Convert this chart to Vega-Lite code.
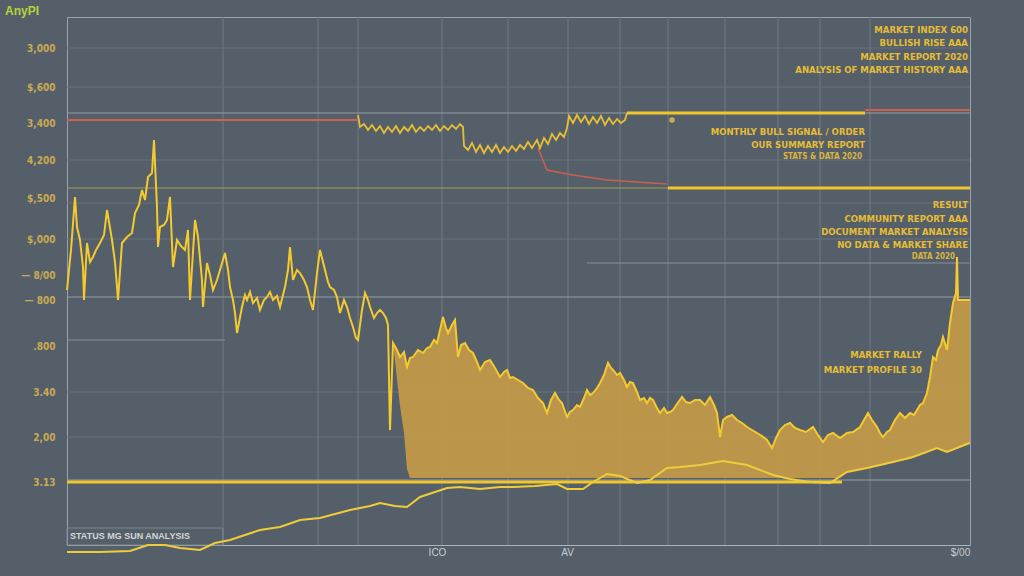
{
"$schema": "https://vega.github.io/schema/vega-lite/v6.json",
"width": 903, "height": 528,
"autosize": {"type": "none"},
"padding": {"left": 67, "top": 17, "right": 54, "bottom": 31},
"background": "#555f69",
"title": {"text": "AnyPI", "anchor": "start", "frame": "group", "dx": -62, "offset": -1, "color": "#b8d43c", "fontSize": 12, "fontWeight": "bold", "font": "Liberation Sans"},
"config": {"view": {"stroke": "#9aa2aa", "strokeWidth": 1}, "font": "Liberation Sans"},
"datasets": {
"main": [
{"t":0,"v":255},{"t":4,"v":295},{"t":8,"v":348},{"t":10,"v":318},{"t":13,"v":305},{"t":16,"v":278},{"t":17,"v":245},{"t":20,"v":302},{"t":23,"v":283},{"t":26,"v":288},{"t":29,"v":295},{"t":33,"v":302},{"t":37,"v":310},{"t":40,"v":335},{"t":43,"v":317},{"t":45,"v":305},{"t":48,"v":283},{"t":50,"v":258},{"t":51,"v":245},{"t":55,"v":302},{"t":60,"v":308},{"t":65,"v":312},{"t":68,"v":332},{"t":72,"v":340},{"t":75,"v":355},{"t":78,"v":345},{"t":81,"v":368},{"t":85,"v":372},{"t":87,"v":405},{"t":90,"v":338},{"t":91,"v":298},{"t":93,"v":318},{"t":97,"v":320},{"t":100,"v":325},{"t":103,"v":348},{"t":106,"v":278},{"t":110,"v":305},{"t":114,"v":299},{"t":118,"v":295},{"t":121,"v":315},{"t":123,"v":245},{"t":128,"v":325},{"t":131,"v":308},{"t":135,"v":265},{"t":136,"v":238},{"t":140,"v":282},{"t":143,"v":270},{"t":146,"v":255},{"t":150,"v":265},{"t":153,"v":275},{"t":158,"v":292},{"t":161,"v":275},{"t":163,"v":258},{"t":166,"v":245},{"t":168,"v":232},{"t":170,"v":212},{"t":175,"v":238},{"t":178,"v":250},{"t":180,"v":245},{"t":183,"v":253},{"t":186,"v":242},{"t":190,"v":247},{"t":193,"v":235},{"t":197,"v":245},{"t":200,"v":248},{"t":203,"v":253},{"t":206,"v":245},{"t":210,"v":249},{"t":213,"v":238},{"t":216,"v":250},{"t":218,"v":258},{"t":221,"v":275},{"t":223,"v":298},{"t":226,"v":265},{"t":230,"v":275},{"t":233,"v":272},{"t":237,"v":265},{"t":240,"v":258},{"t":243,"v":245},{"t":246,"v":235},{"t":250,"v":272},{"t":253,"v":295},{"t":258,"v":275},{"t":261,"v":263},{"t":263,"v":258},{"t":267,"v":255},{"t":270,"v":248},{"t":273,"v":232},{"t":277,"v":245},{"t":280,"v":238},{"t":283,"v":227},{"t":286,"v":218},{"t":289,"v":207},{"t":291,"v":205},{"t":295,"v":235},{"t":298,"v":252},{"t":301,"v":245},{"t":303,"v":238},{"t":307,"v":227},{"t":310,"v":232},{"t":313,"v":235},{"t":316,"v":232},{"t":319,"v":227},{"t":321,"v":220},{"t":323,"v":115},
{"t":326,"v":202,"base":202},{"t":330,"v":195,"base":166},{"t":333,"v":188,"base":139},{"t":337,"v":193,"base":112},{"t":340,"v":178,"base":76},{"t":343,"v":187,"base":67},{"t":346,"v":188,"base":67},{"t":351,"v":195,"base":67},{"t":356,"v":192,"base":67},{"t":360,"v":197,"base":67},{"t":363,"v":198,"base":67},{"t":367,"v":205,"base":67},{"t":370,"v":202,"base":67},{"t":373,"v":215,"base":67},{"t":376,"v":228,"base":67},{"t":379,"v":217,"base":67},{"t":381,"v":212,"base":67},{"t":385,"v":220,"base":67},{"t":388,"v":225,"base":67},{"t":391,"v":188,"base":67},{"t":394,"v":200,"base":67},{"t":398,"v":202,"base":67},{"t":402,"v":195,"base":67},{"t":406,"v":192,"base":67},{"t":410,"v":183,"base":67},{"t":413,"v":175,"base":67},{"t":418,"v":183,"base":67},{"t":423,"v":185,"base":67},{"t":428,"v":177,"base":67},{"t":433,"v":168,"base":67},{"t":437,"v":173,"base":67},{"t":440,"v":175,"base":67},{"t":443,"v":167,"base":67},{"t":446,"v":168,"base":67},{"t":451,"v":165,"base":67},{"t":456,"v":162,"base":67},{"t":461,"v":157,"base":67},{"t":466,"v":155,"base":67},{"t":471,"v":147,"base":67},{"t":476,"v":142,"base":67},{"t":480,"v":132,"base":67},{"t":484,"v":145,"base":67},{"t":488,"v":152,"base":67},{"t":492,"v":145,"base":67},{"t":495,"v":142,"base":67},{"t":500,"v":128,"base":67},{"t":503,"v":133,"base":67},{"t":506,"v":135,"base":67},{"t":510,"v":140,"base":67},{"t":513,"v":138,"base":67},{"t":517,"v":147,"base":67},{"t":520,"v":155,"base":67},{"t":523,"v":150,"base":67},{"t":526,"v":152,"base":67},{"t":530,"v":157,"base":67},{"t":533,"v":162,"base":67},{"t":537,"v":170,"base":67},{"t":541,"v":182,"base":67},{"t":544,"v":177,"base":67},{"t":546,"v":175,"base":67},{"t":550,"v":170,"base":67},{"t":553,"v":172,"base":67},{"t":557,"v":165,"base":67},{"t":560,"v":158,"base":67},{"t":563,"v":163,"base":67},{"t":566,"v":162,"base":67},{"t":570,"v":153,"base":67},{"t":573,"v":145,"base":67},{"t":577,"v":147,"base":67},{"t":580,"v":142,"base":67},{"t":583,"v":147,"base":67},{"t":586,"v":145,"base":67},{"t":590,"v":137,"base":67},{"t":593,"v":132,"base":67},{"t":597,"v":137,"base":67},{"t":600,"v":132,"base":67},{"t":603,"v":133,"base":67},{"t":606,"v":135,"base":67},{"t":610,"v":141,"base":67},{"t":615,"v":148,"base":67},{"t":619,"v":143,"base":67},{"t":623,"v":142,"base":67},{"t":628,"v":145,"base":67},{"t":633,"v":145,"base":67},{"t":638,"v":140,"base":67},{"t":643,"v":148,"base":67},{"t":647,"v":140,"base":67},{"t":650,"v":132,"base":67},{"t":653,"v":108,"base":67},{"t":656,"v":125,"base":67},{"t":660,"v":128,"base":67},{"t":665,"v":130,"base":67},{"t":670,"v":125,"base":67},{"t":675,"v":122,"base":67},{"t":680,"v":118,"base":67},{"t":685,"v":115,"base":67},{"t":690,"v":112,"base":67},{"t":695,"v":109,"base":67},{"t":700,"v":105,"base":67},{"t":705,"v":97,"base":67},{"t":709,"v":107,"base":67},{"t":713,"v":115,"base":67},{"t":718,"v":120,"base":67},{"t":723,"v":122,"base":67},{"t":728,"v":117,"base":67},{"t":733,"v":115,"base":67},{"t":739,"v":113,"base":67},{"t":746,"v":118,"base":67},{"t":751,"v":110,"base":67},{"t":756,"v":103,"base":67},{"t":761,"v":110,"base":67},{"t":766,"v":112,"base":67},{"t":773,"v":107,"base":67},{"t":780,"v":112,"base":73},{"t":786,"v":113,"base":74},{"t":793,"v":118,"base":76},{"t":797,"v":125,"base":77},{"t":801,"v":132,"base":77},{"t":805,"v":125,"base":78},{"t":810,"v":118,"base":79},{"t":813,"v":112,"base":80},{"t":816,"v":108,"base":80},{"t":820,"v":113,"base":81},{"t":823,"v":115,"base":82},{"t":828,"v":125,"base":83},{"t":833,"v":132,"base":84},{"t":838,"v":127,"base":85},{"t":843,"v":132,"base":86},{"t":847,"v":130,"base":88},{"t":850,"v":135,"base":89},{"t":853,"v":140,"base":90},{"t":856,"v":142,"base":92},{"t":858,"v":147,"base":93},{"t":860,"v":152,"base":94},{"t":863,"v":168,"base":95},{"t":866,"v":188,"base":96},{"t":869,"v":185,"base":97},{"t":871,"v":195,"base":96},{"t":874,"v":200,"base":95},{"t":876,"v":208,"base":94},{"t":880,"v":195,"base":93},{"t":883,"v":222,"base":94},{"t":886,"v":242,"base":96},{"t":889,"v":252,"base":97},{"t":890,"v":288,"base":97},{"t":891,"v":245,"base":98},{"t":896,"v":245,"base":99},{"t":903,"v":245,"base":102}
],
"lower": [
{"t":0,"v":-7},{"t":33,"v":-7},{"t":63,"v":-6},{"t":81,"v":0},{"t":98,"v":0},{"t":113,"v":-3},{"t":133,"v":-5},{"t":148,"v":2},{"t":163,"v":5},{"t":178,"v":10},{"t":193,"v":15},{"t":213,"v":18},{"t":233,"v":25},{"t":253,"v":27},{"t":283,"v":35},{"t":303,"v":39},{"t":313,"v":42},{"t":328,"v":39},{"t":340,"v":38},{"t":353,"v":48},{"t":368,"v":53},{"t":380,"v":57},{"t":393,"v":58},{"t":413,"v":56},{"t":433,"v":58},{"t":446,"v":58},{"t":468,"v":59},{"t":490,"v":61},{"t":500,"v":56},{"t":516,"v":56},{"t":526,"v":63},{"t":540,"v":71},{"t":553,"v":69},{"t":570,"v":62},{"t":583,"v":65},{"t":600,"v":77},{"t":613,"v":78},{"t":633,"v":80},{"t":656,"v":84},{"t":680,"v":80},{"t":706,"v":70},{"t":723,"v":66},{"t":743,"v":63},{"t":763,"v":62},{"t":780,"v":73},{"t":800,"v":77},{"t":826,"v":83},{"t":846,"v":88},{"t":870,"v":97},{"t":880,"v":93},{"t":900,"v":101},{"t":903,"v":102}
],
"upper": [
{"t":291,"v":430},{"t":293,"v":418},{"t":297,"v":421},{"t":301,"v":415},{"t":305,"v":420},{"t":309,"v":414},{"t":313,"v":419},{"t":317,"v":412},{"t":321,"v":418},{"t":325,"v":413},{"t":329,"v":419},{"t":333,"v":412},{"t":337,"v":418},{"t":341,"v":414},{"t":345,"v":420},{"t":349,"v":413},{"t":353,"v":418},{"t":357,"v":414},{"t":361,"v":419},{"t":365,"v":415},{"t":369,"v":420},{"t":373,"v":414},{"t":377,"v":419},{"t":381,"v":415},{"t":385,"v":420},{"t":389,"v":416},{"t":393,"v":421},{"t":396,"v":418},{"t":397,"v":399},{"t":401,"v":395},{"t":405,"v":402},{"t":409,"v":393},{"t":413,"v":400},{"t":417,"v":392},{"t":421,"v":399},{"t":425,"v":393},{"t":429,"v":400},{"t":433,"v":392},{"t":437,"v":398},{"t":441,"v":393},{"t":445,"v":399},{"t":449,"v":394},{"t":453,"v":400},{"t":457,"v":396},{"t":461,"v":403},{"t":465,"v":397},{"t":470,"v":405},{"t":473,"v":397},{"t":477,"v":407},{"t":481,"v":401},{"t":485,"v":411},{"t":489,"v":405},{"t":493,"v":412},{"t":497,"v":408},{"t":500,"v":417},{"t":502,"v":429},{"t":506,"v":422},{"t":510,"v":430},{"t":514,"v":423},{"t":518,"v":429},{"t":522,"v":421},{"t":526,"v":428},{"t":530,"v":422},{"t":534,"v":429},{"t":538,"v":420},{"t":542,"v":427},{"t":546,"v":421},{"t":550,"v":426},{"t":554,"v":422},{"t":558,"v":425},{"t":560,"v":432}
],
"redpath": [{"t":471,"v":397},{"t":480,"v":375},{"t":506,"v":370},{"t":540,"v":365},{"t":600,"v":361}],
"redseg": [{"t":0,"t2":290,"v":425},{"t":798,"t2":903,"v":435}],
"yelseg": [{"t":560,"t2":798,"v":432},{"t":601,"t2":903,"v":357},{"t":0,"t2":775,"v":63}],
"gridMajor": [{"v":432},{"v":248},{"v":65}],
"gridMinor": [{"v":497},{"v":458},{"v":385},{"v":342},{"v":306},{"v":153},{"v":108}],
"gridPart": [{"t":0,"t2":158,"v":205},{"t":520,"t2":903,"v":282}],
"olive": [{"v":357}],
"gridV": [{"t":156},{"t":251},{"t":291},{"t":375},{"t":441},{"t":501},{"t":553},{"t":601},{"t":658},{"t":711},{"t":753},{"t":803}],
"dot": [{"t":605,"v":425}],
"notes": [
{"t":901,"v":515,"text":"MARKET INDEX 600"},
{"t":901,"v":502,"text":"BULLISH RISE AAA"},
{"t":901,"v":488,"text":"MARKET REPORT 2020"},
{"t":901,"v":475,"text":"ANALYSIS OF MARKET HISTORY AAA"},
{"t":798,"v":413,"text":"MONTHLY BULL SIGNAL / ORDER"},
{"t":798,"v":400,"text":"OUR SUMMARY REPORT"},
{"t":901,"v":340,"text":"RESULT"},
{"t":901,"v":326,"text":"COMMUNITY REPORT AAA"},
{"t":901,"v":313,"text":"DOCUMENT MARKET ANALYSIS"},
{"t":901,"v":300,"text":"NO DATA & MARKET SHARE"},
{"t":855,"v":190,"text":"MARKET RALLY"},
{"t":855,"v":175,"text":"MARKET PROFILE 30"}
],
"notesSmall": [
{"t":795,"v":388,"text":"STATS & DATA 2020"},
{"t":888,"v":288,"text":"DATA 2020"}
],
"status": [{"t":3,"v":9,"text":"STATUS MG SUN ANALYSIS"}],
"statusBox": [{"t":0,"t2":156,"v":0,"v2":17}]
},
"layer": [
{"data": {"name": "gridV"}, "mark": {"type": "rule", "color": "#707a84", "strokeWidth": 1},
 "encoding": {"x": {"field": "t", "type": "quantitative", "scale": {"domain": [0, 903], "nice": false, "zero": false},
   "axis": {"values": [370, 500, 893], "labelExpr": "datum.value==370?'ICO':datum.value==500?'AV':'$/00'", "grid": false, "ticks": false, "domainColor": "#aeb3b8", "labelColor": "#c8ccd0", "labelFontSize": 10, "labelPadding": 2, "title": null}}}},
{"data": {"name": "gridMinor"}, "mark": {"type": "rule", "color": "#68727c", "strokeWidth": 1},
 "encoding": {"y": {"field": "v", "type": "quantitative", "scale": {"domain": [0, 528], "nice": false, "zero": false},
   "axis": {"values": [497,458,422,385,347,306,270,245,199,153,108,63], "labelExpr": "datum.value==497?'3,000':datum.value==458?'$,600':datum.value==422?'3,400':datum.value==385?'4,200':datum.value==347?'$,500':datum.value==306?'$,000':datum.value==270?'— 8/00':datum.value==245?'— 800':datum.value==199?'.800':datum.value==153?'3.40':datum.value==108?'2,00':'3.13'", "grid": false, "ticks": false, "domain": false, "labelColor": "#cbab52", "labelFontSize": 10, "labelFontWeight": "bold", "labelFont": "DejaVu Sans Condensed, Liberation Sans", "labelPadding": 12, "title": null}}}},
{"data": {"name": "gridMajor"}, "mark": {"type": "rule", "color": "#959ca4", "strokeWidth": 1.2},
 "encoding": {"y": {"field": "v", "type": "quantitative"}}},
{"data": {"name": "gridPart"}, "mark": {"type": "rule", "color": "#8a929a", "strokeWidth": 1},
 "encoding": {"x": {"field": "t", "type": "quantitative"}, "x2": {"field": "t2"}, "y": {"field": "v", "type": "quantitative"}}},
{"data": {"name": "olive"}, "mark": {"type": "rule", "color": "#a39c4c", "strokeWidth": 1.2},
 "encoding": {"y": {"field": "v", "type": "quantitative"}}},
{"data": {"name": "statusBox"}, "mark": {"type": "rect", "fill": null, "stroke": "#7d868f", "strokeWidth": 1},
 "encoding": {"x": {"field": "t", "type": "quantitative"}, "x2": {"field": "t2"}, "y": {"field": "v", "type": "quantitative"}, "y2": {"field": "v2"}}},
{"data": {"name": "main"}, "transform": [{"filter": "isValid(datum.base)"}], "mark": {"type": "area", "color": "#c49a48", "opacity": 0.92},
 "encoding": {"x": {"field": "t", "type": "quantitative"}, "y": {"field": "v", "type": "quantitative"}, "y2": {"field": "base"}}},
{"data": {"name": "yelseg"}, "mark": {"type": "rule", "color": "#f0c62c", "strokeWidth": 3},
 "encoding": {"x": {"field": "t", "type": "quantitative"}, "x2": {"field": "t2"}, "y": {"field": "v", "type": "quantitative"}}},
{"data": {"name": "lower"}, "mark": {"type": "line", "color": "#f0cc3a", "strokeWidth": 2},
 "encoding": {"x": {"field": "t", "type": "quantitative"}, "y": {"field": "v", "type": "quantitative"}}},
{"data": {"name": "redseg"}, "mark": {"type": "rule", "color": "#d0604e", "strokeWidth": 2},
 "encoding": {"x": {"field": "t", "type": "quantitative"}, "x2": {"field": "t2"}, "y": {"field": "v", "type": "quantitative"}}},
{"data": {"name": "redpath"}, "mark": {"type": "line", "color": "#c8604e", "strokeWidth": 1.6},
 "encoding": {"x": {"field": "t", "type": "quantitative"}, "y": {"field": "v", "type": "quantitative"}}},
{"data": {"name": "main"}, "mark": {"type": "line", "color": "#f4ca2e", "strokeWidth": 2},
 "encoding": {"x": {"field": "t", "type": "quantitative"}, "y": {"field": "v", "type": "quantitative"}}},
{"data": {"name": "upper"}, "mark": {"type": "line", "color": "#e8bf34", "strokeWidth": 1.8},
 "encoding": {"x": {"field": "t", "type": "quantitative"}, "y": {"field": "v", "type": "quantitative"}}},
{"data": {"name": "dot"}, "mark": {"type": "point", "filled": true, "color": "#f4d040", "size": 30},
 "encoding": {"x": {"field": "t", "type": "quantitative"}, "y": {"field": "v", "type": "quantitative"}}},
{"data": {"name": "notes"}, "mark": {"type": "text", "align": "right", "baseline": "middle", "color": "#e6bd35", "fontSize": 9.5, "fontWeight": "bold", "font": "DejaVu Sans Condensed, Liberation Sans"},
 "encoding": {"x": {"field": "t", "type": "quantitative"}, "y": {"field": "v", "type": "quantitative"}, "text": {"field": "text"}}},
{"data": {"name": "notesSmall"}, "mark": {"type": "text", "align": "right", "baseline": "middle", "color": "#d8b440", "fontSize": 8, "fontWeight": "bold", "font": "DejaVu Sans Condensed, Liberation Sans"},
 "encoding": {"x": {"field": "t", "type": "quantitative"}, "y": {"field": "v", "type": "quantitative"}, "text": {"field": "text"}}},
{"data": {"name": "status"}, "mark": {"type": "text", "align": "left", "baseline": "middle", "color": "#d2d6da", "fontSize": 9, "fontWeight": "bold", "font": "Liberation Sans"},
 "encoding": {"x": {"field": "t", "type": "quantitative"}, "y": {"field": "v", "type": "quantitative"}, "text": {"field": "text"}}}
]
}
